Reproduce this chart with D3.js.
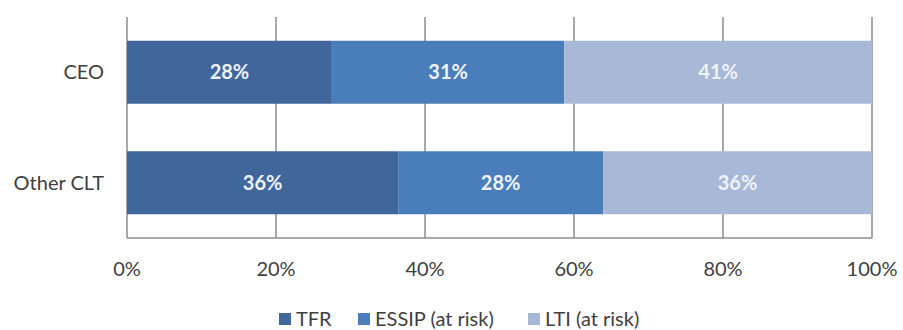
<!DOCTYPE html>
<html>
<head>
<meta charset="utf-8">
<script src="https://cdn.jsdelivr.net/npm/d3@7"></script>
<style>
  body { margin: 0; background: #fff; }
  text { font-family: Lato, "Open Sans", sans-serif; }
</style>
</head>
<body>
<svg id="chart"></svg>
<script>
const categories = ['CEO', 'Other CLT'];
const seriesNames = ['TFR', 'ESSIP (at risk)', 'LTI (at risk)'];
const tfr   = [27.5, 36.4];
const essip = [31.2, 27.5];
const lti   = [41.3, 36.1];
const tickValues = [0, 20, 40, 60, 80, 100];
const colors = ['#3f679c', '#4a7ebb', '#a8b9d7'];

const width = 903, height = 330;
const margin = {top: 17, right: 31, bottom: 92, left: 127};

const svg = d3.select('#chart')
              .attr('width', width)
              .attr('height', height);

const rows = categories.map((c, i) => ({cat: c, TFR: tfr[i], 'ESSIP (at risk)': essip[i], 'LTI (at risk)': lti[i]}));
const stacked = d3.stack().keys(seriesNames)(rows);

const x = d3.scaleLinear()
            .domain([0, 100])
            .range([margin.left, width - margin.right]);
const y = d3.scaleBand()
            .domain(categories)
            .range([margin.top, height - margin.bottom])
            .paddingInner(0.43)
            .paddingOuter(0.215);

// gridlines
svg.append('g')
   .selectAll('line')
   .data(tickValues)
   .join('line')
   .attr('x1', d => x(d))
   .attr('x2', d => x(d))
   .attr('y1', margin.top)
   .attr('y2', height - margin.bottom)
   .attr('stroke', '#8c8c8c')
   .attr('stroke-width', 1.5);

// bottom axis line
svg.append('line')
   .attr('x1', x(0))
   .attr('x2', x(100))
   .attr('y1', height - margin.bottom)
   .attr('y2', height - margin.bottom)
   .attr('stroke', '#8c8c8c')
   .attr('stroke-width', 1.5);

const layers = svg.append('g')
   .selectAll('g')
   .data(stacked)
   .join('g')
   .attr('fill', (d, i) => colors[i]);

layers.selectAll('rect')
   .data(d => d)
   .join('rect')
   .attr('x', d => x(d[0]))
   .attr('width', d => x(d[1]) - x(d[0]))
   .attr('y', d => y(d.data.cat))
   .attr('height', y.bandwidth());

layers.selectAll('text')
   .data(d => d)
   .join('text')
   .attr('x', d => (x(d[0]) + x(d[1])) / 2)
   .attr('y', d => y(d.data.cat) + y.bandwidth() / 2)
   .attr('dy', '0.35em')
   .attr('text-anchor', 'middle')
   .attr('font-size', '20px')
   .attr('font-weight', 'bold')
   .attr('fill', '#eef2f8')
   .text(d => Math.round(d[1] - d[0]) + '%');

// category labels
svg.append('g')
   .selectAll('text')
   .data(categories)
   .join('text')
   .attr('x', margin.left - 23)
   .attr('y', d => y(d) + y.bandwidth() / 2)
   .attr('dy', '0.35em')
   .attr('text-anchor', 'end')
   .attr('font-size', '20px')
   .attr('fill', '#404040')
   .text(d => d);

// tick labels
svg.append('g')
   .selectAll('text')
   .data(tickValues)
   .join('text')
   .attr('x', d => x(d))
   .attr('y', 269)
   .attr('dy', '0.35em')
   .attr('text-anchor', 'middle')
   .attr('font-size', '20px')
   .attr('fill', '#404040')
   .text(d => d + '%');

// legend
const legendX = [279, 358, 528];
const legend = svg.append('g')
   .selectAll('g')
   .data(seriesNames)
   .join('g')
   .attr('transform', (d, i) => `translate(${legendX[i]}, 319)`);

legend.append('rect')
   .attr('x', 0)
   .attr('y', -6)
   .attr('width', 12)
   .attr('height', 12)
   .attr('fill', (d, i) => colors[i]);

legend.append('text')
   .attr('x', 17)
   .attr('dy', '0.35em')
   .attr('font-size', '20px')
   .attr('fill', '#404040')
   .text(d => d);
</script>
</body>
</html>
